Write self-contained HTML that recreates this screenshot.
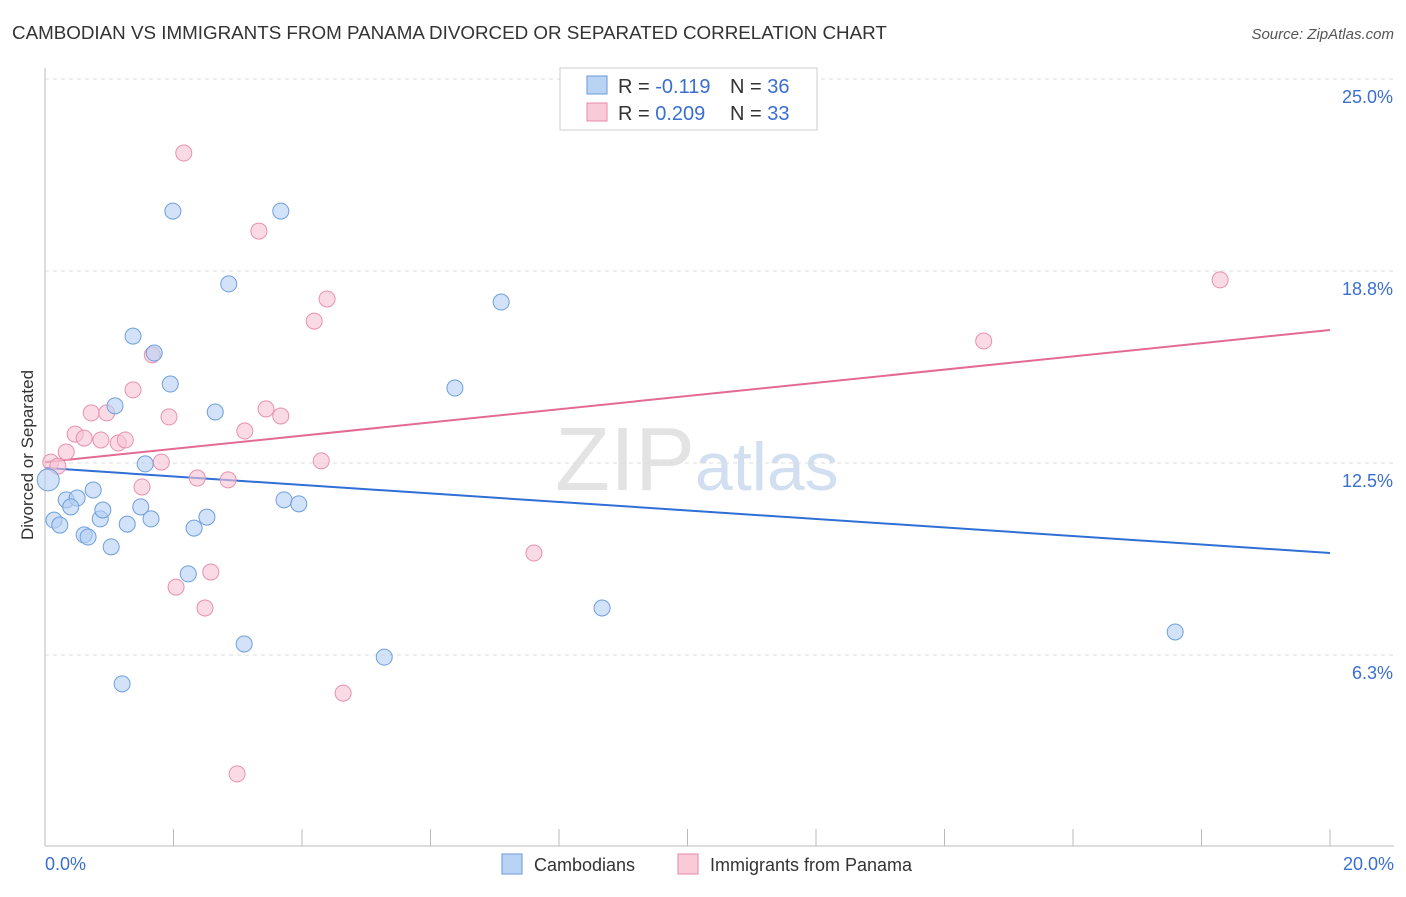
<!DOCTYPE html>
<html><head><meta charset="utf-8"><style>
body{margin:0;background:#fff;font-family:"Liberation Sans",sans-serif;}
svg text{font-family:"Liberation Sans",sans-serif;}
</style></head><body>
<svg id="chart" width="1406" height="892" xmlns="http://www.w3.org/2000/svg">
<text x="12" y="39" font-size="18.8" fill="#333">CAMBODIAN VS IMMIGRANTS FROM PANAMA DIVORCED OR SEPARATED CORRELATION CHART</text>
<text x="1394" y="39" font-size="15" fill="#555" font-style="italic" text-anchor="end">Source: ZipAtlas.com</text>
<text x="555" y="490" font-size="90" fill="#ddd" font-family="Liberation Serif" opacity="0.8">ZIP<tspan fill="#c8d8ee" font-family="Liberation Sans" font-size="68">atlas</tspan></text>
<g id="grid"></g>
<g id="axes"></g>
<text transform="translate(33,455) rotate(-90)" font-size="17" fill="#333" text-anchor="middle">Divorced or Separated</text>
<g id="lines"></g>
<g id="points"></g>
<g>
<rect x="560" y="68" width="257" height="62" fill="#fff" stroke="#ccc"/>
<rect x="587" y="76" width="20" height="18" fill="#b9d3f5" stroke="#6a9ad8"/>
<text x="618" y="93" font-size="20" fill="#333">R = <tspan fill="#3a6fd0">-0.119</tspan></text>
<text x="730" y="93" font-size="20" fill="#333">N = <tspan fill="#3a6fd0">36</tspan></text>
<rect x="587" y="103" width="20" height="18" fill="#f9cad8" stroke="#e58aa8"/>
<text x="618" y="120" font-size="20" fill="#333">R = <tspan fill="#3a6fd0">0.209</tspan></text>
<text x="730" y="120" font-size="20" fill="#333">N = <tspan fill="#3a6fd0">33</tspan></text>
</g>
<g>
<rect x="502" y="854" width="20" height="20" fill="#b9d3f5" stroke="#6a9ad8"/>
<text x="534" y="871" font-size="18" fill="#333">Cambodians</text>
<rect x="678" y="854" width="20" height="20" fill="#f9cad8" stroke="#e58aa8"/>
<text x="710" y="871" font-size="18" fill="#333">Immigrants from Panama</text>
</g>
</svg>
<script>
const blueX=[1.99,3.67,2.86,7.10,1.37,1.70,1.95,6.38,1.09,2.65,1.56,0.33,0.50,0.75,0.40,0.14,0.23,0.86,0.90,1.49,1.65,1.28,0.61,0.67,1.03,2.32,2.52,3.72,3.95,2.23,8.67,3.10,5.28,17.59,1.20,0.05];
const blueY=[20.70,20.70,18.33,17.74,16.63,16.08,15.07,14.94,14.36,14.16,12.47,11.30,11.36,11.62,11.07,10.64,10.48,10.68,10.97,11.07,10.68,10.51,10.16,10.09,9.77,10.38,10.74,11.30,11.17,8.89,7.78,6.61,6.18,7.00,5.31,11.95];
const pinkX=[2.16,3.33,4.39,4.19,18.29,14.61,1.67,1.37,1.93,0.72,0.96,3.44,3.67,3.11,0.47,0.61,0.87,1.14,1.25,0.33,0.09,0.20,1.81,4.30,2.37,2.85,1.51,7.61,2.58,2.04,2.49,4.64,2.99];
const pinkY=[22.59,20.05,17.84,17.12,18.46,16.47,16.02,14.88,14.00,14.13,14.13,14.26,14.03,13.54,13.44,13.31,13.25,13.15,13.25,12.86,12.53,12.40,12.53,12.57,12.01,11.95,11.72,9.57,8.95,8.46,7.78,5.01,2.38];
const blueTrend=[12.34,9.57];
const pinkTrend=[12.53,16.83];
const yTicks=[25.0,18.75,12.5,6.25];
const yTickLabels=["25.0%","18.8%","12.5%","6.3%"];
const xTicks=[0,2,4,6,8,10,12,14,16,18,20];
const NS="http://www.w3.org/2000/svg";
const sx=v=>45+v/20*1285;
const sy=v=>847-v*30.72;
function mk(tag,attrs,parent){const e=document.createElementNS(NS,tag);for(const k in attrs)e.setAttribute(k,attrs[k]);document.getElementById(parent).appendChild(e);return e;}
yTicks.forEach((t,i)=>{
 const g=mk('line',{x1:45,x2:1394,y1:sy(t),y2:sy(t),stroke:'#ddd','stroke-dasharray':'4,4'},'grid');
 
 
 const tx=mk('text',{x:1393,y:sy(t)+24,'font-size':18,fill:'#3a6fd0','text-anchor':'end'},'axes');
 tx.textContent=yTickLabels[i];
 
 
});
const ax=mk('line',{x1:45,x2:1394,y1:846,y2:846,stroke:'#bbb'},'axes');


const ay=mk('line',{x1:45,x2:45,y1:68,y2:846,stroke:'#bbb'},'axes');


xTicks.forEach(t=>{const l=mk('line',{x1:sx(t),x2:sx(t),y1:829,y2:846,stroke:'#bbb'},'axes');
 
 });
const xl0=mk('text',{x:45,y:870,'font-size':18,fill:'#3a6fd0'},'axes');xl0.textContent='0.0%';


const xl1=mk('text',{x:1394,y:870,'font-size':18,fill:'#3a6fd0','text-anchor':'end'},'axes');xl1.textContent='20.0%';


function pts(X,Y,fill,stroke,name){X.forEach((x,i)=>{const c=mk('circle',{cx:sx(x),cy:sy(Y[i]),r:(i===X.length-1&&name==='cambodian-point')?11:8,fill:fill,stroke:stroke,'stroke-width':1,'fill-opacity':0.6},'points');
 
 });}
pts(pinkX,pinkY,'#f7c3d3','#e890ae','panama-point');
pts(blueX,blueY,'#b4cff3','#6e9fdc','cambodian-point');
const bl=mk('line',{x1:sx(0),y1:sy(blueTrend[0]),x2:sx(20),y2:sy(blueTrend[1]),stroke:'#2f6fd6','stroke-width':2},'lines');


const pl=mk('line',{x1:sx(0),y1:sy(pinkTrend[0]),x2:sx(20),y2:sy(pinkTrend[1]),stroke:'#e36a94','stroke-width':2},'lines');


</script>
</body></html>
